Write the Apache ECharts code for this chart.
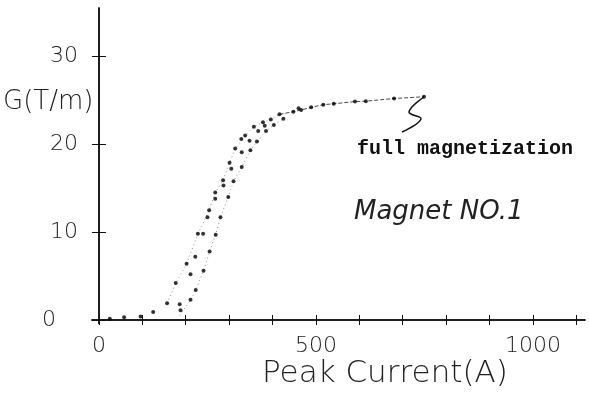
<!DOCTYPE html>
<html><head><meta charset="utf-8">
<script src="https://cdn.jsdelivr.net/npm/echarts@6/dist/echarts.min.js"></script>
<style>html,body{margin:0;padding:0;background:#fff}#c{width:589px;height:402px}</style>
</head><body><div id="c"></div>
<script>
// Peak current (A) and gradient G (T/m) of measured points
var currentA = [25,58,96,125,157,177,186,188,202,211,211,222,223,228,240,241,250,254,255,268,268,269,280,286,287,298,301,305,310,314,328,329,329,337,347,349,357,364,367,378,382,385,396,403,416,425,448,460,466,489,517,541,590,615,680,749];
var gradientG = [0.15,0.3,0.4,0.9,1.9,4.2,1.8,1.1,6.4,5.2,2.3,7.2,3.4,9.8,9.8,5.6,11.7,12.5,7.8,14.5,13.8,9.7,11.7,15.9,15.3,14.0,17.9,17.2,15.8,19.5,20.6,19.1,17.4,21.0,20.4,19.3,22.0,20.3,21.5,22.5,22.1,21.5,22.8,22.2,23.4,22.9,23.7,24.1,23.9,24.2,24.5,24.6,24.85,24.9,25.2,25.4];
// branches traced by the faint dotted guide lines
var upperI = [157,177,202,228,254,268,286,301,314,337,357,378,396,416];
var upperG = [1.9,4.2,6.4,9.8,12.5,14.5,15.9,17.9,19.5,21.0,22.0,22.5,22.8,23.4];
var lowerI = [186,211,223,241,255,269,280,298,310,329,349,364,385,403,425];
var lowerG = [0.5,2.3,3.4,5.6,7.8,9.7,11.7,14.0,15.8,17.4,19.3,20.3,21.5,22.2,22.9];
var tailI = [416,448,466,489,517,541,590,615,680,749];
var tailG = [23.4,23.7,23.9,24.2,24.5,24.6,24.85,24.9,25.2,25.4];
var xTickValues = [0,100,200,300,400,500,600,700,800,900,1000,1100];
var xLabelValues = [0,500,1000];
var yTickValues = [0,10,20,30];

function zip(a,b){return a.map(function(v,i){return [v,b[i]];});}
var handFont = '"DejaVu Sans", sans-serif';
var chart = echarts.init(document.getElementById('c'));
var xBase = {min:-16,max:1120,position:'bottom',splitLine:{show:false},
  axisLine:{onZero:true,lineStyle:{color:'#111',width:1.5}}};
var yBase = {min:-0.4,max:35.5,position:'left',splitLine:{show:false},
  axisLine:{onZero:true,lineStyle:{color:'#111',width:1.5}}};
chart.setOption({
  animation:false,
  backgroundColor:'#fff',
  grid:{left:92,top:8,width:493,height:315.5},
  xAxis:[
    Object.assign({},xBase,{axisTick:{length:5,customValues:xTickValues,lineStyle:{color:'#111'}},
      axisLabel:{margin:12,color:'#222',fontSize:22,fontFamily:handFont,fontWeight:300,customValues:xLabelValues,
        formatter:function(v){return String(v);}}}),
    Object.assign({},xBase,{axisLine:{show:true,onZero:true,lineStyle:{color:'#111',width:1.5}},axisTick:{inside:true,length:5,customValues:xTickValues,lineStyle:{color:'#111'}},axisLabel:{show:false}})
  ],
  yAxis:[
    Object.assign({},yBase,{axisTick:{length:7,customValues:yTickValues,lineStyle:{color:'#111'}},
      axisLabel:{margin:14,color:'#222',fontSize:22,fontFamily:handFont,fontWeight:300,customValues:yTickValues,
        formatter:function(v){return v===0?'0\u2002\u2002':String(v);}}}),
    Object.assign({},yBase,{axisLine:{show:true,onZero:true,lineStyle:{color:'#111',width:1.5}},axisTick:{inside:true,length:7,customValues:yTickValues,lineStyle:{color:'#111'}},axisLabel:{show:false}})
  ],
  series:[
    {type:'line',data:zip(upperI,upperG),symbol:'none',lineStyle:{color:'#777',width:0.8,type:[1,3]},z:1},
    {type:'line',data:zip(lowerI,lowerG),symbol:'none',lineStyle:{color:'#777',width:0.8,type:[1,3]},z:1},
    {type:'line',data:zip(tailI,tailG),symbol:'none',lineStyle:{color:'#333',width:0.9,type:[4,2]},z:1},
    {type:'scatter',data:zip(currentA,gradientG),symbolSize:4,itemStyle:{color:'#000'},z:3}
  ],
  graphic:[
    {type:'text',left:3,top:89,style:{text:'G(T/m)',fontSize:26,fontFamily:handFont,fontWeight:300,fill:'#222'}},
    {type:'text',left:262,top:358,style:{text:'Peak Current(A)',fontSize:31,fontFamily:handFont,fontWeight:300,fill:'#222'}},
    {type:'text',left:357,top:139,style:{text:'full magnetization',fontSize:20,fontWeight:'bold',fontFamily:'"Liberation Mono", monospace',fill:'#111'}},
    {type:'text',left:354,top:199,style:{text:'Magnet NO.1',fontSize:26,fontStyle:'italic',fontFamily:handFont,fontWeight:300,fill:'#222'}},
    {type:'polyline',shape:{points:[[424,97],[409,112],[421,119],[402,132]],smooth:0.4},style:{stroke:'#111',lineWidth:1.5,fill:null}}
  ]
});
</script></body></html>
